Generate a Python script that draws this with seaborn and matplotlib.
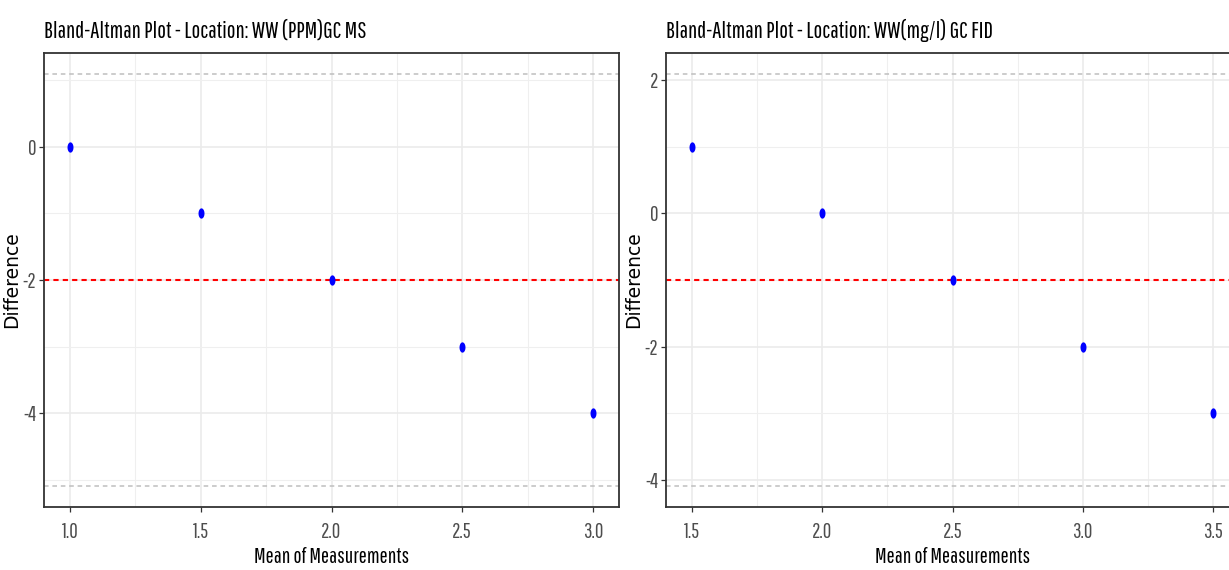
import numpy as np
import matplotlib
matplotlib.use("Agg")
import matplotlib.pyplot as plt
from matplotlib.path import Path
from matplotlib.ticker import MultipleLocator, FormatStrFormatter
import seaborn as sns

# datos de las dos localizaciones
titulos = ["Bland-Altman Plot - Location: WW (PPM)GC MS",
           "Bland-Altman Plot - Location: WW(mg/l) GC FID"]
media_ms = [1.0, 1.5, 2.0, 2.5, 3.0]
dif_ms = [0, -1, -2, -3, -4]
media_fid = [1.5, 2.0, 2.5, 3.0, 3.5]
dif_fid = [1, 0, -1, -2, -3]

sns.set_theme(style="white")
plt.rcParams['font.family'] = ['Pathway Gothic One', 'Liberation Sans', 'DejaVu Sans']
plt.rcParams['axes.unicode_minus'] = False

# marcador eliptico (la imagen original esta comprimida en horizontal)
t = np.linspace(0, 2 * np.pi, 40)
elipse = Path(np.column_stack([0.58 * np.cos(t), np.sin(t)]))

fig = plt.figure(figsize=(12.29, 5.70), dpi=100)
W, H = 1229, 570
ax1 = fig.add_axes([44 / W, 63 / H, 575 / W, 454 / H])
ax2 = fig.add_axes([666 / W, 63 / H, 573 / W, 454 / H])


def bland_altman(ax, medias, difs, titulo):
    difs = np.array(difs, dtype=float)
    m = difs.mean()
    sd = difs.std(ddof=1)
    sup, inf = m + 1.96 * sd, m - 1.96 * sd

    ax.xaxis.set_major_locator(MultipleLocator(0.5))
    ax.xaxis.set_minor_locator(MultipleLocator(0.25))
    ax.yaxis.set_major_locator(MultipleLocator(2))
    ax.yaxis.set_minor_locator(MultipleLocator(1))
    ax.xaxis.set_major_formatter(FormatStrFormatter('%.1f'))
    ax.grid(which='major', color='#EBEBEB', linewidth=1.2, zorder=0)
    ax.grid(which='minor', color='#EFEFEF', linewidth=0.8, zorder=0)
    ax.set_axisbelow(True)

    ax.axhline(m, color='red', linestyle=(0, (2.5, 2)), linewidth=1.5, zorder=2)
    ax.axhline(sup, color='#BEBEBE', linestyle=(0, (3, 2.5)), linewidth=1.1, zorder=2)
    ax.axhline(inf, color='#BEBEBE', linestyle=(0, (3, 2.5)), linewidth=1.1, zorder=2)
    sns.scatterplot(x=medias, y=difs, ax=ax, color='blue', marker=elipse,
                    s=55, edgecolor='blue', linewidth=0, zorder=3)

    rx = max(medias) - min(medias)
    ax.set_xlim(min(medias) - 0.05 * rx, max(medias) + 0.05 * rx)
    ry = sup - inf
    ax.set_ylim(inf - 0.05 * ry, sup + 0.05 * ry)

    for s in ax.spines.values():
        s.set_color('#333333')
        s.set_linewidth(1.3)
    ax.tick_params(axis='both', which='major', length=3.5, width=0.9,
                   color='#333333', labelsize=15, labelcolor='#4D4D4D',
                   direction='out', bottom=True, left=True, pad=2)
    ax.tick_params(axis='x', which='major', pad=7)
    ax.tick_params(which='minor', length=0)
    ax.set_xlabel('Mean of Measurements', fontsize=15.5, color='black', labelpad=4)
    ax.set_ylabel('Difference', fontsize=13.5, color='black',
                  family=['DejaVu Sans'])
    ax.yaxis.set_label_coords(-23 / 575, 0.5)
    ax.set_title(titulo, fontsize=16.7, loc='left', pad=11, color='black')


bland_altman(ax1, media_ms, dif_ms, titulos[0])
bland_altman(ax2, media_fid, dif_fid, titulos[1])

fig.savefig('out.png', dpi=100)
